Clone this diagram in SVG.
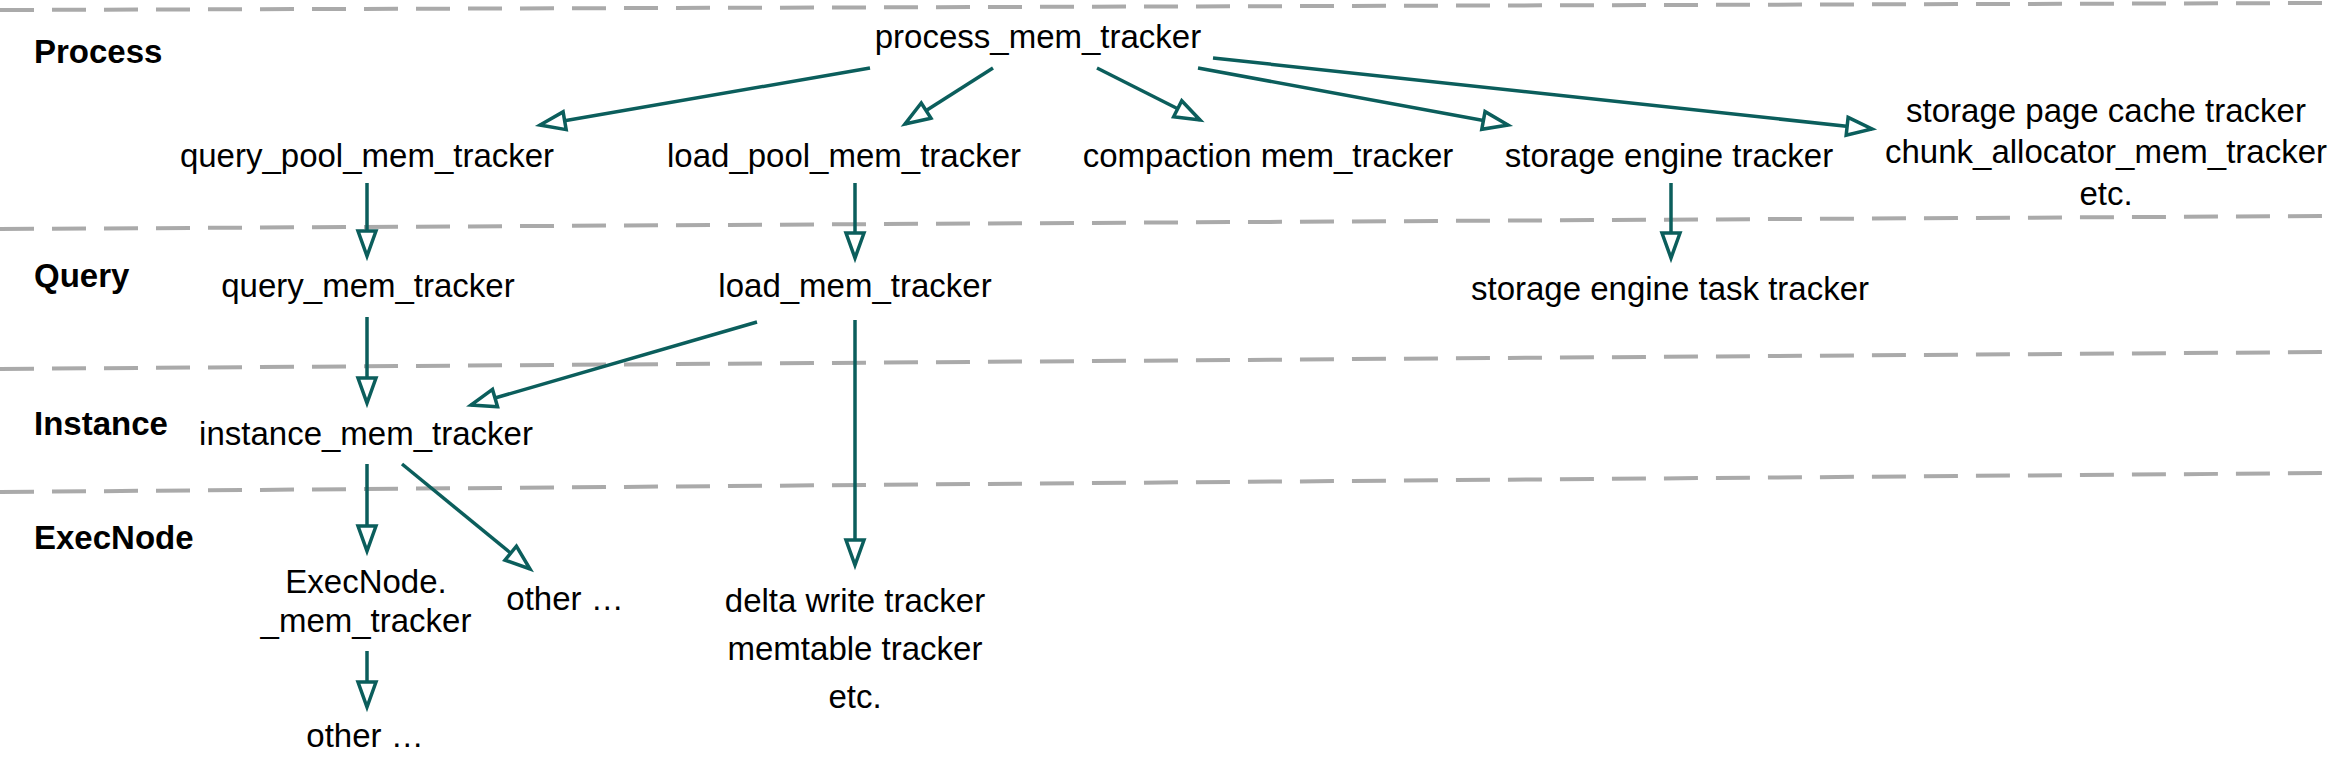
<svg xmlns="http://www.w3.org/2000/svg" width="2342" height="768" viewBox="0 0 2342 768">
<style>
.bg{fill:#fff}
.lane{stroke:#aaaaaa;stroke-width:4;stroke-dasharray:34 18;fill:none}
.lbl{font-family:"Liberation Sans",Arial,sans-serif;font-size:33px;font-weight:bold;fill:#000}
.t{font-family:"Liberation Sans",Arial,sans-serif;font-size:33px;fill:#000;text-anchor:middle}
.e{stroke:#0b5e5c;stroke-width:3.5;fill:none;marker-end:url(#ah)}
</style>
<defs>
<marker id="ah" markerUnits="userSpaceOnUse" markerWidth="40" markerHeight="30" viewBox="-30 -15 34 30" refX="0" refY="0" orient="auto">
<path d="M-25,-9 L0,0 L-25,9 Z" fill="#fff" stroke="#0b5e5c" stroke-width="3.5" stroke-linejoin="miter"/>
</marker>
</defs>
<rect class="bg" x="0" y="0" width="2342" height="768"/>
<g id="lanes">
<line class="lane" x1="0" y1="10" x2="2325" y2="3"/>
<line class="lane" x1="0" y1="229" x2="2325" y2="216"/>
<line class="lane" x1="0" y1="369" x2="2325" y2="352"/>
<line class="lane" x1="0" y1="492" x2="2325" y2="473"/>
</g>
<g id="lane-labels">
<text class="lbl" x="34" y="63">Process</text>
<text class="lbl" x="34" y="287">Query</text>
<text class="lbl" x="34" y="435">Instance</text>
<text class="lbl" x="34" y="549">ExecNode</text>
</g>
<g id="connectors">
<path class="e" d="M870,68 L540,125"/>
<path class="e" d="M993,68 L905,124"/>
<path class="e" d="M1097,68 L1200,120"/>
<path class="e" d="M1198,68 L1508,125"/>
<path class="e" d="M1213,58 L1872,129"/>
<path class="e" d="M367,183 L367,256"/>
<path class="e" d="M855,183 L855,258"/>
<path class="e" d="M1671,183 L1671,258"/>
<path class="e" d="M367,317 L367,403"/>
<path class="e" d="M757,322 L471,405"/>
<path class="e" d="M855,320 L855,565"/>
<path class="e" d="M367,464 L367,551"/>
<path class="e" d="M402,464 L530,569"/>
<path class="e" d="M367,651 L367,707"/>
</g>
<g id="process_mem_tracker"><text class="t" x="1038" y="48">process_mem_tracker</text></g>
<g id="query_pool_mem_tracker"><text class="t" x="367" y="167">query_pool_mem_tracker</text></g>
<g id="load_pool_mem_tracker"><text class="t" x="844" y="167">load_pool_mem_tracker</text></g>
<g id="compaction_mem_tracker"><text class="t" x="1268" y="167">compaction mem_tracker</text></g>
<g id="storage_engine_tracker"><text class="t" x="1669" y="167">storage engine tracker</text></g>
<g id="storage_page_cache"><text class="t" x="2106" y="122">storage page cache tracker</text><text class="t" x="2106" y="163">chunk_allocator_mem_tracker</text><text class="t" x="2106" y="205">etc.</text></g>
<g id="query_mem_tracker"><text class="t" x="368" y="297">query_mem_tracker</text></g>
<g id="load_mem_tracker"><text class="t" x="855" y="297">load_mem_tracker</text></g>
<g id="storage_engine_task_tracker"><text class="t" x="1670" y="300">storage engine task tracker</text></g>
<g id="instance_mem_tracker"><text class="t" x="366" y="445">instance_mem_tracker</text></g>
<g id="execnode_mem_tracker"><text class="t" x="366" y="593">ExecNode.</text><text class="t" x="366" y="632">_mem_tracker</text></g>
<g id="other_right"><text class="t" x="565" y="610">other …</text></g>
<g id="other_bottom"><text class="t" x="365" y="747">other …</text></g>
<g id="delta_write_tracker"><text class="t" x="855" y="612">delta write tracker</text><text class="t" x="855" y="660">memtable tracker</text><text class="t" x="855" y="708">etc.</text></g>
</svg>
